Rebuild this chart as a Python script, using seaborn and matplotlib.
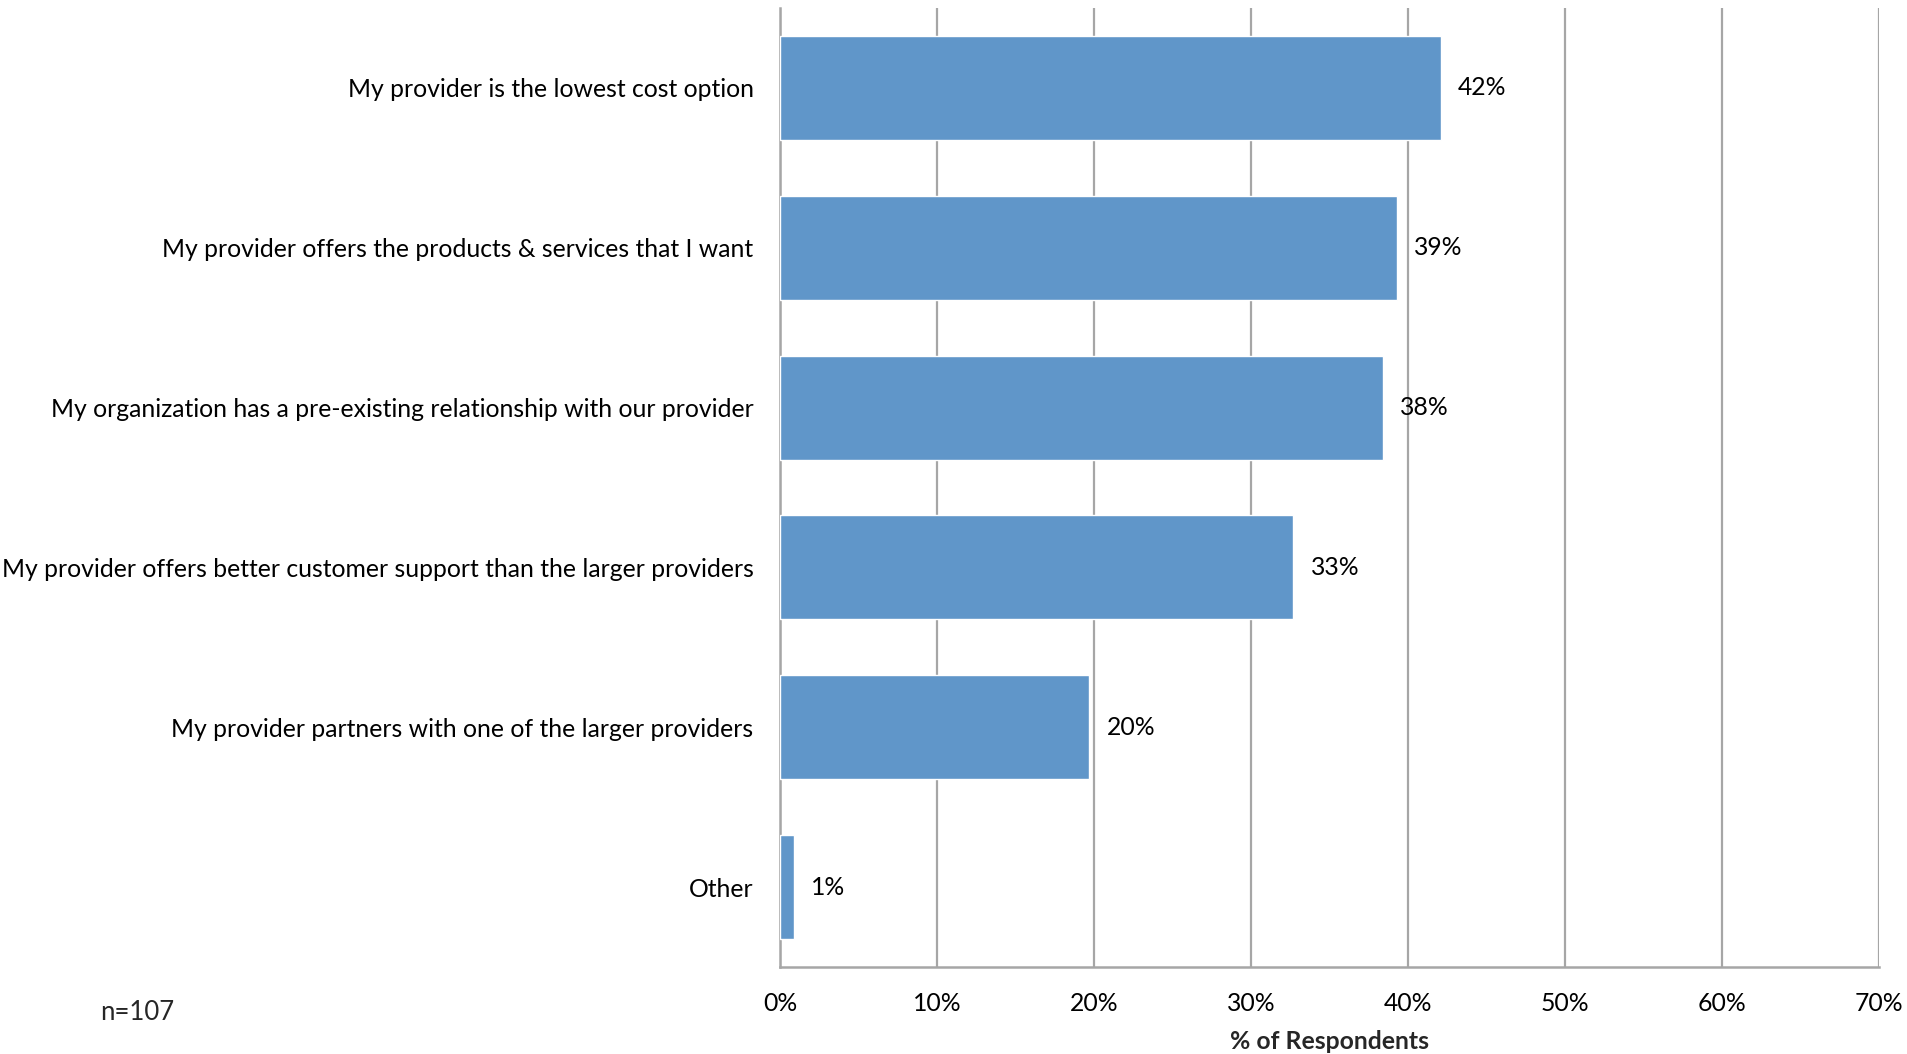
import matplotlib
matplotlib.use("Agg")
import matplotlib.pyplot as plt
import seaborn as sns
import pandas as pd
from matplotlib.ticker import FuncFormatter

categories = [
    "My provider is the lowest cost option",
    "My provider offers the products & services that I want",
    "My organization has a pre-existing relationship with our provider",
    "My provider offers better customer support than the larger providers",
    "My provider partners with one of the larger providers",
    "Other",
]
values = [42.1, 39.3, 38.4, 32.7, 19.7, 0.9]
value_labels = ["42%", "39%", "38%", "33%", "20%", "1%"]
x_ticks = [0, 10, 20, 30, 40, 50, 60, 70]

sns.set_theme(style="white")
plt.rcParams["font.family"] = ["Lato", "DejaVu Sans"]

df = pd.DataFrame({"category": categories, "value": values})

fig = plt.figure(figsize=(19.07, 10.54), dpi=100)
ax = fig.add_axes([0.409, 0.0825, 0.5763, 0.910])

sns.barplot(data=df, x="value", y="category", orient="h", color="#6096C9",
            saturation=1, width=0.65, ax=ax, zorder=3)

ax.set_xlim(0, 70)
ax.set_ylim(5.5, -0.5)
ax.set_xticks(x_ticks)
ax.xaxis.set_major_formatter(FuncFormatter(lambda v, p: f"{int(v)}%"))
ax.grid(axis="x", color="#A6A6A6", linewidth=1.6, zorder=0)
ax.set_axisbelow(True)

for s in ["top", "right"]:
    ax.spines[s].set_visible(False)
for s in ["left", "bottom"]:
    ax.spines[s].set_color("#A6A6A6")
    ax.spines[s].set_linewidth(1.8)

fs = 17.8
ax.tick_params(axis="y", length=0, pad=19, labelsize=fs, labelcolor="black")
ax.tick_params(axis="x", length=0, pad=18, labelsize=fs, labelcolor="black")
ax.set_ylabel("")
ax.set_xlabel("% of Respondents", fontsize=fs, fontweight="bold", labelpad=11)

for i, (v, lab) in enumerate(zip(values, value_labels)):
    ax.text(v + 1.1, i, lab, va="center", ha="left", fontsize=fs, color="black")

fig.text(100 / 1907, 1 - 1013 / 1054, "n=107", fontsize=18.5, va="center", ha="left")

fig.savefig("out.png", dpi=100, facecolor="white")
